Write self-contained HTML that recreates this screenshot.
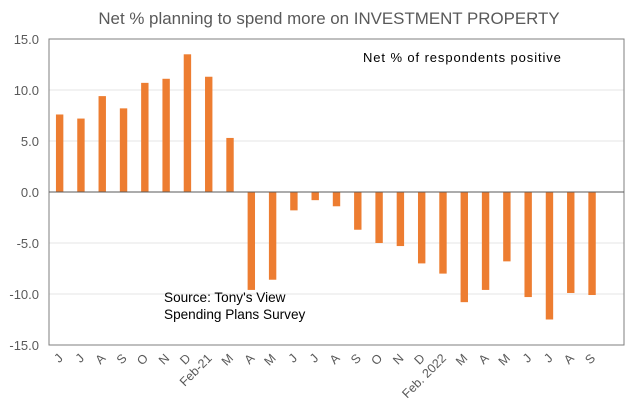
<!DOCTYPE html>
<html><head><meta charset="utf-8"><style>
body{margin:0;background:#fff;width:635px;height:414px;overflow:hidden}
svg{font-family:"Liberation Sans",sans-serif}
</style></head><body>
<svg id="chart" width="635" height="414">
<text x="329" y="24" text-anchor="middle" font-size="16.9" fill="#595959">Net % planning to spend more on INVESTMENT PROPERTY</text>
<g id="grid"></g><g id="bars"></g><g id="axes"></g>
<text x="363" y="62" font-size="13" letter-spacing="0.9" fill="#000">Net % of respondents positive</text>
<text x="164" y="302" font-size="13.6" fill="#000">Source: Tony's View</text>
<text x="164" y="319" font-size="13.6" fill="#000">Spending Plans Survey</text>
</svg>
<script>
const categories=["J","J","A","S","O","N","D","Feb-21","M","A","M","J","J","A","S","O","N","D","Feb. 2022","M","A","M","J","J","A","S"];
const values=[7.6,7.2,9.4,8.2,10.7,11.1,13.5,11.3,5.3,-9.6,-8.6,-1.8,-0.8,-1.4,-3.7,-5.0,-5.3,-7.0,-8.0,-10.8,-9.6,-6.8,-10.3,-12.5,-9.9,-10.1];
const yTicks=[15,10,5,0,-5,-10,-15];
const NS="http://www.w3.org/2000/svg";
const L=49,R=624,T=39,B=345,slots=27;
const y=v=>T+(15-v)/30*(B-T);
const step=(R-L)/slots;
const x=i=>L+step*(i+0.5);
function mk(tag,attrs,parent){const e=document.createElementNS(NS,tag);for(const k in attrs)e.setAttribute(k,attrs[k]);document.getElementById(parent).appendChild(e);return e;}
yTicks.forEach(t=>{
 if(t!==0&&t!==15&&t!==-15){const g=mk('line',{x1:L,x2:R,y1:y(t),y2:y(t),stroke:'#e6e6e6','stroke-width':1},'grid');
 
 }
 const tx=mk('text',{x:L-10,y:y(t)+5,'text-anchor':'end','font-size':13,fill:'#595959'},'axes');
 tx.textContent=t.toFixed(1);
 
 
});
values.forEach((v,i)=>{
 const y0=y(0),yv=y(v);
 const b=mk('rect',{x:x(i)-3.7,y:Math.min(y0,yv),width:7.4,height:Math.abs(yv-y0),fill:'#ED7D31'},'bars');
 
 
});
categories.forEach((c,i)=>{
 const t=mk('text',{x:x(i)+4,y:B+14,'text-anchor':'end','font-size':12.5,fill:'#595959',transform:`rotate(-45 ${x(i)+4} ${B+14})`},'axes');
 t.textContent=c;
 
 
});
const frame=mk('rect',{x:L,y:T,width:R-L,height:B-T,fill:'none',stroke:'#7f7f7f','stroke-width':1},'axes');


const zl=mk('line',{x1:L,x2:R,y1:y(0),y2:y(0),stroke:'#595959','stroke-width':1},'axes');


</script>
</body></html>
